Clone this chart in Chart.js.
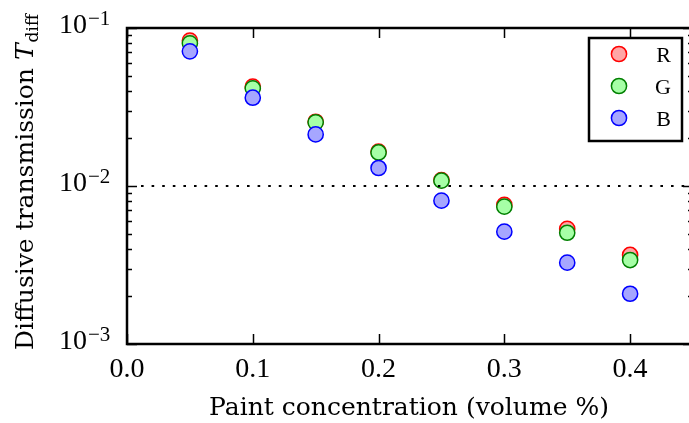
<!DOCTYPE html>
<html lang="en">
<head>
<meta charset="UTF-8">
<title>Diffusive transmission vs paint concentration</title>
<script src="https://cdn.jsdelivr.net/npm/chart.js"></script>
<style>
  html, body { margin: 0; padding: 0; background: #fff; overflow: hidden; }
  #wrap { width: 689px; height: 423px; }
</style>
</head>
<body>
<div id="wrap"><canvas id="chartTdiff" width="689" height="423"></canvas></div>
<script>
// measured transmission per colour channel
const concentration = [0.05, 0.10, 0.15, 0.20, 0.25, 0.30, 0.35, 0.40];
const tRed   = [0.0831, 0.0425, 0.0255, 0.0165, 0.0109, 0.00759, 0.00535, 0.00366];
const tGreen = [0.0800, 0.0415, 0.0253, 0.0163, 0.0108, 0.00740, 0.00506, 0.00340];
const tBlue  = [0.0712, 0.0362, 0.0212, 0.0130, 0.00807, 0.00514, 0.00327, 0.00208];

const xTicks = [0.0, 0.1, 0.2, 0.3, 0.4];
const xTickLabels = ['0.0', '0.1', '0.2', '0.3', '0.4'];
const yDecades = [1e-3, 1e-2, 1e-1];
const yExponents = ['\u22123', '\u22122', '\u22121'];
const threshold = 0.01;

const TICK_FONT = '"Liberation Serif", serif';
const TITLE_FONT = '"DejaVu Serif", serif';

function pts(ys) {
  return concentration.map((c, i) => ({ x: c, y: ys[i] }));
}

// inward ticks, frame, dotted threshold, labels and legend
const axesFrame = {
  id: 'axesFrame',
  afterLayout(chart) {
    // let the plot run a few px past the canvas' right edge (x = 0.45 is off-screen)
    const x = chart.scales.x;
    chart.chartArea.right += 4;
    chart.chartArea.width += 4;
    x.right += 4;
    x.width += 4;
    x.configure();
  },
  afterDatasetsDraw(chart) {
    const { ctx, chartArea: a, scales: { y } } = chart;
    const yp = Math.round(y.getPixelForValue(threshold));
    ctx.save();
    ctx.strokeStyle = '#000';
    ctx.lineWidth = 2.2;
    ctx.setLineDash([2.6, 8]);
    ctx.beginPath();
    ctx.moveTo(a.left + 14, yp);
    ctx.lineTo(a.right, yp);
    ctx.stroke();
    ctx.restore();
  },
  afterDraw(chart) {
    const { ctx, chartArea: a, scales: { x, y } } = chart;
    ctx.save();
    ctx.strokeStyle = '#000';
    ctx.fillStyle = '#000';

    // ticks
    ctx.lineWidth = 1.5;
    ctx.beginPath();
    xTicks.forEach(v => {
      const px = Math.round(x.getPixelForValue(v)) + 0.5;
      ctx.moveTo(px, a.bottom); ctx.lineTo(px, a.bottom - 10);
      ctx.moveTo(px, a.top); ctx.lineTo(px, a.top + 10);
    });
    yDecades.forEach((d, k) => {
      const py = Math.round(y.getPixelForValue(d)) + 0.5;
      ctx.moveTo(a.left, py); ctx.lineTo(a.left + 10, py);
      ctx.moveTo(a.right, py); ctx.lineTo(a.right - 10, py);
      if (k < yDecades.length - 1) {
        for (let m = 2; m <= 9; m++) {
          const my = Math.round(y.getPixelForValue(d * m)) + 0.5;
          ctx.moveTo(a.left, my); ctx.lineTo(a.left + 5, my);
          ctx.moveTo(a.right, my); ctx.lineTo(a.right - 5, my);
        }
      }
    });
    ctx.stroke();

    // frame
    ctx.lineWidth = 2.5;
    ctx.strokeRect(a.left, a.top, a.right - a.left, a.bottom - a.top);

    // x tick labels
    ctx.font = '28px ' + TICK_FONT;
    ctx.textAlign = 'center';
    ctx.textBaseline = 'alphabetic';
    xTicks.forEach((v, i) => {
      ctx.fillText(xTickLabels[i], x.getPixelForValue(v), a.bottom + 33);
    });

    // y tick labels: 10 with a raised exponent
    yDecades.forEach((d, i) => {
      const py = y.getPixelForValue(d);
      ctx.font = '28px ' + TICK_FONT;
      ctx.textAlign = 'right';
      ctx.fillText('10', a.left - 40, py + 5);
      ctx.font = '21px ' + TICK_FONT;
      ctx.textAlign = 'left';
      ctx.fillText(yExponents[i], a.left - 39, py - 3);
    });

    // x axis title
    ctx.font = '25px ' + TITLE_FONT;
    ctx.textAlign = 'center';
    ctx.fillText('Paint concentration (volume %)', 409, 415);

    // y axis title with italic T and subscript
    const main = 'Diffusive transmission ';
    ctx.font = '25px ' + TITLE_FONT;
    const wMain = ctx.measureText(main).width;
    ctx.font = 'italic 25px ' + TITLE_FONT;
    const wT = ctx.measureText('T').width;
    ctx.font = '17px ' + TITLE_FONT;
    const wSub = ctx.measureText('diff').width;
    const total = wMain + wT + wSub + 1;
    ctx.translate(33, 182);
    ctx.rotate(-Math.PI / 2);
    ctx.textAlign = 'left';
    let sx = -total / 2;
    ctx.font = '25px ' + TITLE_FONT;
    ctx.fillText(main, sx, 0);
    sx += wMain;
    ctx.font = 'italic 25px ' + TITLE_FONT;
    ctx.fillText('T', sx, 0);
    sx += wT + 1;
    ctx.font = '17px ' + TITLE_FONT;
    ctx.fillText('diff', sx, 5);
    ctx.setTransform(1, 0, 0, 1, 0, 0);

    // legend
    const lx = a.right - 104, ly = a.top + 10, lw = 93, lh = 103;
    ctx.fillStyle = '#fff';
    ctx.fillRect(lx, ly, lw, lh);
    ctx.lineWidth = 2.5;
    ctx.strokeStyle = '#000';
    ctx.strokeRect(lx, ly, lw, lh);
    chart.data.datasets.forEach((ds, i) => {
      const cy = ly + 16 + i * 32;
      ctx.beginPath();
      ctx.arc(lx + 30, cy, ds.pointRadius, 0, Math.PI * 2);
      ctx.fillStyle = ds.backgroundColor;
      ctx.fill();
      ctx.lineWidth = ds.borderWidth;
      ctx.strokeStyle = ds.borderColor;
      ctx.stroke();
      ctx.fillStyle = '#000';
      ctx.font = '22px ' + TICK_FONT;
      ctx.textAlign = 'right';
      ctx.fillText(ds.label, lx + 82, cy + 8);
    });
    ctx.restore();
  }
};

const chartTdiff = new Chart(document.getElementById('chartTdiff').getContext('2d'), {
  type: 'scatter',
  data: {
    datasets: [
      { label: 'R', data: pts(tRed), backgroundColor: '#ffa6a6', borderColor: '#ff0000',
        pointRadius: 7.6, borderWidth: 1.5, order: 2 },
      { label: 'G', data: pts(tGreen), backgroundColor: '#a6ffa6', borderColor: '#008000',
        pointRadius: 7.6, borderWidth: 1.5, order: 1 },
      { label: 'B', data: pts(tBlue), backgroundColor: '#a6a6ff', borderColor: '#0000ff',
        pointRadius: 7.6, borderWidth: 1.5, order: 0 }
    ]
  },
  options: {
    responsive: false,
    animation: false,
    layout: { autoPadding: false, padding: { left: 127, top: 28, right: 0, bottom: 79 } },
    plugins: { legend: { display: false }, tooltip: { enabled: false } },
    scales: {
      x: { type: 'linear', min: 0, max: 0.45, display: false },
      y: { type: 'logarithmic', min: 0.001, max: 0.1, display: false }
    }
  },
  plugins: [axesFrame]
});
</script>
</body>
</html>
